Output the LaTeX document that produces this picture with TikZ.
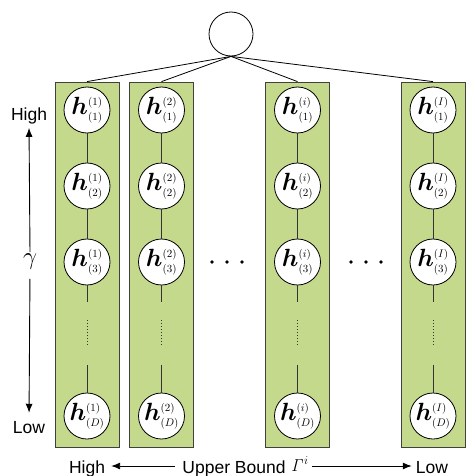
\documentclass[tikz,border=0pt]{standalone}
\usepackage[no-math]{fontspec}
\setmainfont{Liberation Sans}
\usepackage{bm}
\usetikzlibrary{arrows.meta}

\definecolor{colgreen}{RGB}{196,217,140}
\definecolor{rim}{RGB}{64,64,64}

% hidden unit label: bold h with small super- and subscript indices
\newcommand{\idx}[1]{\mbox{\fontsize{10.5}{10.5}\selectfont$(#1)$}}
\newcommand{\hlab}[2]{$\bm{h}^{\idx{#1}}_{\idx{#2}}$}

\tikzset{
  colbox/.style={draw=rim, fill=colgreen, line width=0.8pt,
    minimum width=64pt, minimum height=365pt, inner sep=0pt},
  hnode/.style={circle, draw=black, fill=white, line width=0.8pt,
    minimum size=46pt, inner sep=0pt, font=\fontsize{24}{24}\selectfont},
  topnode/.style={circle, draw=black, fill=white, line width=0.8pt,
    minimum size=44pt, inner sep=0pt},
  tie/.style={draw=black, line width=0.8pt},
  link/.style={draw=black!80, line width=0.8pt},
  dotlink/.style={draw=black!80, line width=0.8pt, dash pattern=on 0.8pt off 2.2pt},
  lbl/.style={inner sep=0pt, font=\fontsize{17.5}{17.5}\selectfont},
  arr/.style={draw=black, line width=0.9pt, -{Latex[length=9pt,width=7pt]}},
}

\begin{document}
\begin{tikzpicture}[x=1pt, y=-1pt]
\useasboundingbox (0,0) rectangle (466,476);

\node[topnode] (top) at (231,34) {};

\foreach \cx/\sp/\k in {87/1/1, 161.5/2/2, 297.5/i/3, 433/I/4} {
  \node[colbox] (col\k) at (\cx,264.5) {};
  \draw[tie] (top.south) -- (col\k.north);
  \node[hnode] (h\k-1) at (\cx,110) {\hlab{\sp}{1}};
  \node[hnode] (h\k-2) at (\cx,186) {\hlab{\sp}{2}};
  \node[hnode] (h\k-3) at (\cx,262) {\hlab{\sp}{3}};
  \node[hnode] (h\k-D) at (\cx,416) {\hlab{\sp}{D}};
  \coordinate (u\k) at (\cx,302);
  \coordinate (p\k) at (\cx,320);
  \coordinate (q\k) at (\cx,346);
  \coordinate (r\k) at (\cx,365);
  \draw[link] (h\k-1) -- (h\k-2);
  \draw[link] (h\k-2) -- (h\k-3);
  \draw[link] (h\k-3) -- (u\k);
  \draw[dotlink] (p\k) -- (q\k);
  \draw[link] (r\k) -- (h\k-D);
}

% ellipses between the columns
\foreach \dx in {212,227,242,351,366,381}
  \fill (\dx,262) circle (1.8pt);

% depth axis on the left
\node[lbl, anchor=base] (hiL) at (29,121) {High};
\node[lbl, anchor=base] (loL) at (29,433) {Low};
\node[inner sep=1pt, font=\fontsize{30}{30}\selectfont] (gam) at (30,262) {$\gamma$};
\draw[arr, shorten <=1pt, shorten >=3pt] (gam.north) -- (hiL.south);
\draw[arr, shorten <=8pt, shorten >=8pt] (gam.south) -- (loL.north);

% upper bound axis at the bottom
\coordinate (axis) at (0,466);
\node[lbl, anchor=base] (hiB) at (87,473) {High};
\node[lbl, anchor=base] (ub) at (234,473) {Upper Bound};
\node[inner sep=0pt, anchor=base west, font=\fontsize{16.5}{16.5}\selectfont] (gi) at (291,471) {$\mathit{\Gamma}^{i}$};
\node[lbl, anchor=base] (loB) at (432,473) {Low};
\draw[arr, shorten <=7pt, shorten >=6pt] (ub.west |- axis) -- (hiB.east |- axis);
\draw[arr, shorten <=3pt, shorten >=4pt] (gi.east |- axis) -- (loB.west |- axis);
\end{tikzpicture}
\end{document}
